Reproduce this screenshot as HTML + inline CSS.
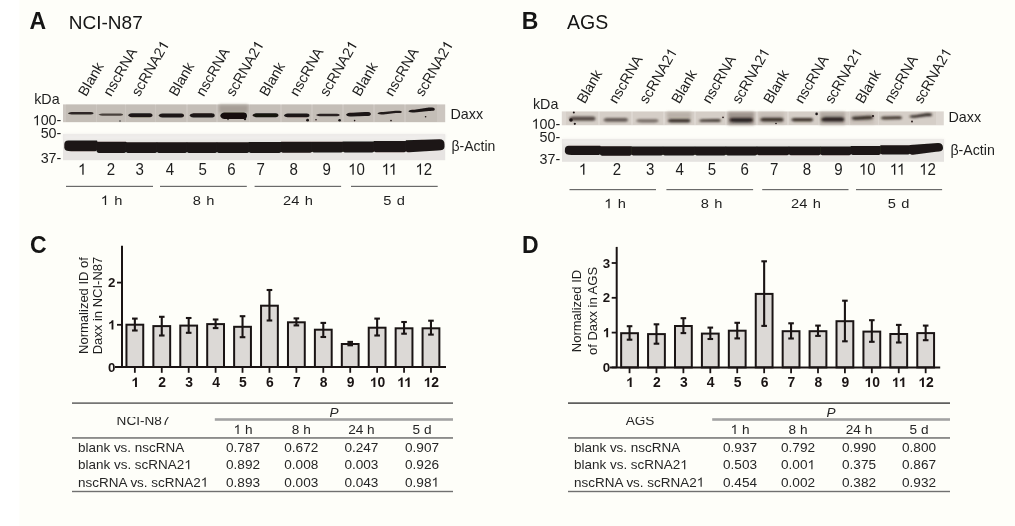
<!DOCTYPE html>
<html><head><meta charset="utf-8"><title>Figure</title>
<style>
html,body{margin:0;padding:0;background:#fefef9;}
svg{display:block;font-family:"Liberation Sans", sans-serif;will-change:transform;}
</style></head><body>
<svg width="1015" height="526" viewBox="0 0 1015 526">
<defs><filter id="b1" x="-10%" y="-100%" width="120%" height="300%"><feGaussianBlur stdDeviation="0.55"/></filter><clipPath id="hclip"><rect x="0" y="417" width="1015" height="20"/></clipPath><filter id="b3" x="-10%" y="-100%" width="120%" height="300%"><feGaussianBlur stdDeviation="0.8"/></filter><filter id="b2" x="-20%" y="-50%" width="140%" height="200%"><feGaussianBlur stdDeviation="1.5"/></filter></defs>
<rect x="0" y="0" width="1015" height="526" fill="#fefef9"/>
<rect x="0" y="0" width="19.3" height="526" fill="#ffffff"/>
<text x="0" y="0" font-size="23" font-weight="bold" text-anchor="start" fill="#151515" transform="translate(29.5,29)">A</text>
<text x="0" y="0" font-size="19" text-anchor="start" fill="#151515" transform="translate(68.8,29)">NCI-N87</text>
<text x="0" y="0" font-size="23" font-weight="bold" text-anchor="start" fill="#151515" transform="translate(521.7,29)">B</text>
<text x="0" y="0" font-size="19.5" text-anchor="start" fill="#151515" transform="translate(567,29)">AGS</text>
<text x="0" y="0" font-size="23" font-weight="bold" text-anchor="start" fill="#151515" transform="translate(30,252.5)">C</text>
<text x="0" y="0" font-size="23" font-weight="bold" text-anchor="start" fill="#151515" transform="translate(522,252.5)">D</text>
<rect x="63" y="104.4" width="382.2" height="17.8" fill="#ccc6c0"/>
<rect x="66" y="104.6" width="30" height="17.4" fill="#bcb5ad" opacity="0.45" filter="url(#b1)"/>
<rect x="97" y="104.6" width="28" height="17.4" fill="#bcb5ad" opacity="0.45" filter="url(#b1)"/>
<rect x="126" y="104.6" width="29" height="17.4" fill="#bcb5ad" opacity="0.45" filter="url(#b1)"/>
<rect x="156" y="104.6" width="30" height="17.4" fill="#bcb5ad" opacity="0.45" filter="url(#b1)"/>
<rect x="188" y="104.6" width="28" height="17.4" fill="#bcb5ad" opacity="0.45" filter="url(#b1)"/>
<rect x="218" y="104.6" width="31" height="17.4" fill="#bcb5ad" opacity="0.45" filter="url(#b1)"/>
<rect x="250" y="104.6" width="30" height="17.4" fill="#bcb5ad" opacity="0.45" filter="url(#b1)"/>
<rect x="282" y="104.6" width="29" height="17.4" fill="#bcb5ad" opacity="0.45" filter="url(#b1)"/>
<rect x="313" y="104.6" width="29" height="17.4" fill="#bcb5ad" opacity="0.45" filter="url(#b1)"/>
<rect x="344" y="104.6" width="29" height="17.4" fill="#bcb5ad" opacity="0.45" filter="url(#b1)"/>
<rect x="375" y="104.6" width="29" height="17.4" fill="#bcb5ad" opacity="0.45" filter="url(#b1)"/>
<rect x="406" y="104.6" width="31" height="17.4" fill="#bcb5ad" opacity="0.45" filter="url(#b1)"/>
<rect x="219" y="104.8" width="29" height="8" fill="#a69e96" filter="url(#b2)"/>
<path d="M67.9,113.3 C68.9,112.3 70.9,112.0 73.9,112.0 L87.5,111.9 C90.5,111.9 93.5,111.7 93.5,113.15 C93.5,114.60000000000001 90.5,114.4 87.5,114.4 L73.9,114.6 C70.9,114.6 68.9,114.3 67.9,113.3 Z" fill="#2e2825" opacity="1" filter="url(#b1)"/>
<path d="M98.4,114.6 C99.4,113.7 101.4,113.4 104.4,113.4 L117,113.4 C120,113.4 123,113.2 123,114.6 C123,116.0 120,115.8 117,115.8 L104.4,115.8 C101.4,115.8 99.4,115.5 98.4,114.6 Z" fill="#4a423d" opacity="1" filter="url(#b1)"/>
<path d="M128,115.3 C129,113.6 131,113.3 134,113.3 L146.6,113.3 C149.6,113.3 152.6,113.1 152.6,115.3 C152.6,117.5 149.6,117.3 146.6,117.3 L134,117.3 C131,117.3 129,117.0 128,115.3 Z" fill="#1e1917" opacity="1" filter="url(#b1)"/>
<path d="M158.5,115.6 C159.5,113.89999999999999 161.5,113.6 164.5,113.6 L178.1,113.6 C181.1,113.6 184.1,113.39999999999999 184.1,115.6 C184.1,117.8 181.1,117.6 178.1,117.6 L164.5,117.6 C161.5,117.6 159.5,117.3 158.5,115.6 Z" fill="#1c1716" opacity="1" filter="url(#b1)"/>
<path d="M189.5,115.44999999999999 C190.5,113.6 192.5,113.3 195.5,113.3 L208.7,113.3 C211.7,113.3 214.7,113.1 214.7,115.44999999999999 C214.7,117.8 211.7,117.6 208.7,117.6 L195.5,117.6 C192.5,117.6 190.5,117.3 189.5,115.44999999999999 Z" fill="#1a1515" opacity="1" filter="url(#b1)"/>
<path d="M220.2,115.75 C221.2,112.8 223.2,112.5 226.2,112.5 L241,112.5 C244,112.5 247,112.3 247,115.75 C247,119.2 244,119 241,119 L226.2,119 C223.2,119 221.2,118.7 220.2,115.75 Z" fill="#120e0d" opacity="1" filter="url(#b1)"/>
<path d="M252.4,115.2 C253.4,113.5 255.4,113.2 258.4,113.2 L272.5,113.2 C275.5,113.2 278.5,113.0 278.5,115.2 C278.5,117.4 275.5,117.2 272.5,117.2 L258.4,117.2 C255.4,117.2 253.4,116.9 252.4,115.2 Z" fill="#161211" opacity="1" filter="url(#b1)"/>
<path d="M283.9,115.4 C284.9,113.89999999999999 286.9,113.6 289.9,113.6 L303.5,113.6 C306.5,113.6 309.5,113.39999999999999 309.5,115.4 C309.5,117.4 306.5,117.2 303.5,117.2 L289.9,117.2 C286.9,117.2 284.9,116.9 283.9,115.4 Z" fill="#1a1515" opacity="1" filter="url(#b1)"/>
<path d="M316,115.05 C317,114.1 319,113.8 321.9,113.8 L333.70000000000005,113.8 C336.6,113.8 339.6,113.6 339.6,115.05 C339.6,116.5 336.6,116.3 333.70000000000005,116.3 L321.9,116.3 C319,116.3 317,116.0 316,115.05 Z" fill="#2a2422" opacity="1" filter="url(#b1)"/>
<path d="M346,114.69999999999999 C347,113.1 349,112.8 352,112.8 L364.9,112 C367.9,112 370.9,111.8 370.9,114.0 C370.9,116.2 367.9,116 364.9,116 L352,116.6 C349,116.6 347,116.3 346,114.69999999999999 Z" fill="#1a1515" opacity="1" filter="url(#b1)"/>
<path d="M377.4,113.3 C378.4,112.3 380.4,112 383.4,112 L395.8,110.8 C398.8,110.8 401.8,110.6 401.8,111.9 C401.8,113.2 398.8,113 395.8,113 L383.4,114.6 C380.4,114.6 378.4,114.3 377.4,113.3 Z" fill="#221c1a" opacity="1" filter="url(#b1)"/>
<path d="M408.3,111.19999999999999 C409.3,110.1 411.3,109.8 414.3,109.8 L428.8,107.6 C431.8,107.6 434.8,107.39999999999999 434.8,109.25 C434.8,111.10000000000001 431.8,110.9 428.8,110.9 L414.3,112.6 C411.3,112.6 409.3,112.3 408.3,111.19999999999999 Z" fill="#1a1515" opacity="1" filter="url(#b1)"/>
<circle cx="307.6" cy="120.2" r="1.4" fill="#1a1414" opacity="1" filter="url(#b1)"/>
<circle cx="316" cy="119.7" r="0.8" fill="#1a1414" opacity="1" filter="url(#b1)"/>
<circle cx="339.6" cy="120.2" r="1.3" fill="#1a1414" opacity="1" filter="url(#b1)"/>
<circle cx="354.6" cy="120.6" r="0.8" fill="#1a1414" opacity="1" filter="url(#b1)"/>
<circle cx="391" cy="120.6" r="0.8" fill="#1a1414" opacity="1" filter="url(#b1)"/>
<circle cx="425.6" cy="116.8" r="0.8" fill="#1a1414" opacity="1" filter="url(#b1)"/>
<circle cx="245" cy="119" r="1.2" fill="#1a1414" opacity="1" filter="url(#b1)"/>
<circle cx="228" cy="119.5" r="0.7" fill="#1a1414" opacity="1" filter="url(#b1)"/>
<circle cx="120" cy="121" r="0.7" fill="#1a1414" opacity="1" filter="url(#b1)"/>
<rect x="63" y="134.2" width="382.2" height="26" fill="#e7e4e2"/>
<rect x="63" y="134.2" width="382.2" height="6" fill="#efedeb" filter="url(#b2)"/>
<path d="M64.3,144.5 Q64.3,140.5 68.3,140.5 L96.89999999999999,140.5 Q97.3,140.5 97.3,140.9 L97.3,149.45 Q97.3,151.2 93.8,151.2 L71.3,151.2 Q64.3,151.2 64.3,147.7 Z" fill="#1a1614" filter="url(#b1)"/>
<path d="M96.7,142.20000000000002 Q96.7,141.8 97.10000000000001,141.8 L125.89999999999999,141.8 Q126.3,141.8 126.3,142.20000000000002 L126.3,151.25 Q126.3,153.0 122.8,153.0 L100.2,153.0 Q96.7,153.0 96.7,151.25 Z" fill="#1a1614" filter="url(#b1)"/>
<path d="M125.7,142.6 Q125.7,142.2 126.10000000000001,142.2 L156.9,142.2 Q157.3,142.2 157.3,142.6 L157.3,151.25 Q157.3,153.0 153.8,153.0 L129.2,153.0 Q125.7,153.0 125.7,151.25 Z" fill="#1a1614" filter="url(#b1)"/>
<path d="M156.7,142.6 Q156.7,142.2 157.1,142.2 L186.9,142.2 Q187.3,142.2 187.3,142.6 L187.3,151.25 Q187.3,153.0 183.8,153.0 L160.2,153.0 Q156.7,153.0 156.7,151.25 Z" fill="#1a1614" filter="url(#b1)"/>
<path d="M186.7,142.70000000000002 Q186.7,142.3 187.1,142.3 L216.9,142.3 Q217.3,142.3 217.3,142.70000000000002 L217.3,151.25 Q217.3,153.0 213.8,153.0 L190.2,153.0 Q186.7,153.0 186.7,151.25 Z" fill="#1a1614" filter="url(#b1)"/>
<path d="M216.7,142.70000000000002 Q216.7,142.3 217.1,142.3 L248.9,142.3 Q249.3,142.3 249.3,142.70000000000002 L249.3,151.25 Q249.3,153.0 245.8,153.0 L220.2,153.0 Q216.7,153.0 216.7,151.25 Z" fill="#1a1614" filter="url(#b1)"/>
<path d="M248.7,142.4 Q248.7,142.0 249.1,142.0 L280.90000000000003,142.0 Q281.3,142.0 281.3,142.4 L281.3,151.15 Q281.3,152.9 277.8,152.9 L252.2,152.9 Q248.7,152.9 248.7,151.15 Z" fill="#1a1614" filter="url(#b1)"/>
<path d="M280.7,142.20000000000002 Q280.7,141.8 281.09999999999997,141.8 L311.90000000000003,141.8 Q312.3,141.8 312.3,142.20000000000002 L312.3,151.05 Q312.3,152.8 308.8,152.8 L284.2,152.8 Q280.7,152.8 280.7,151.05 Z" fill="#1a1614" filter="url(#b1)"/>
<path d="M311.7,142.1 Q311.7,141.7 312.09999999999997,141.7 L342.90000000000003,141.7 Q343.3,141.7 343.3,142.1 L343.3,150.85 Q343.3,152.6 339.8,152.6 L315.2,152.6 Q311.7,152.6 311.7,150.85 Z" fill="#1a1614" filter="url(#b1)"/>
<path d="M342.7,141.8 Q342.7,141.4 343.09999999999997,141.4 L373.90000000000003,141.4 Q374.3,141.4 374.3,141.8 L374.3,150.75 Q374.3,152.5 370.8,152.5 L346.2,152.5 Q342.7,152.5 342.7,150.75 Z" fill="#1a1614" filter="url(#b1)"/>
<path d="M373.7,141.4 Q373.7,141.0 374.09999999999997,141.0 L405.90000000000003,141.0 Q406.3,141.0 406.3,141.4 L406.3,150.55 Q406.3,152.3 402.8,152.3 L377.2,152.3 Q373.7,152.3 373.7,150.55 Z" fill="#1a1614" filter="url(#b1)"/>
<path d="M405.7,140.68 Q405.7,140.28 406.09999999999997,140.28 L439.5,139.32000000000002 Q444.5,139.32000000000002 444.5,144.32000000000002 L444.5,147.10000000000002 Q444.5,150.60000000000002 437.5,150.60000000000002 L409.2,152.16000000000003 Q405.7,152.16000000000003 405.7,150.41000000000003 Z" fill="#1a1614" filter="url(#b1)"/>
<rect x="561.8" y="111.4" width="382" height="13.9" fill="#ddd7d1"/>
<rect x="566" y="111.8" width="32" height="13" fill="#cfc7c0" opacity="0.55" filter="url(#b1)"/>
<rect x="600" y="111.8" width="31" height="13" fill="#cfc7c0" opacity="0.55" filter="url(#b1)"/>
<rect x="633" y="111.8" width="30" height="13" fill="#cfc7c0" opacity="0.55" filter="url(#b1)"/>
<rect x="665" y="111.8" width="29" height="13" fill="#cfc7c0" opacity="0.55" filter="url(#b1)"/>
<rect x="696" y="111.8" width="29" height="13" fill="#cfc7c0" opacity="0.55" filter="url(#b1)"/>
<rect x="727" y="111.8" width="29" height="13" fill="#cfc7c0" opacity="0.55" filter="url(#b1)"/>
<rect x="758" y="111.8" width="29" height="13" fill="#cfc7c0" opacity="0.55" filter="url(#b1)"/>
<rect x="789" y="111.8" width="29" height="13" fill="#cfc7c0" opacity="0.55" filter="url(#b1)"/>
<rect x="820" y="111.8" width="29" height="13" fill="#cfc7c0" opacity="0.55" filter="url(#b1)"/>
<rect x="850" y="111.8" width="28" height="13" fill="#cfc7c0" opacity="0.55" filter="url(#b1)"/>
<rect x="879" y="111.8" width="28" height="13" fill="#cfc7c0" opacity="0.55" filter="url(#b1)"/>
<rect x="907" y="111.8" width="29" height="13" fill="#cfc7c0" opacity="0.55" filter="url(#b1)"/>
<rect x="728" y="112" width="26" height="12.8" fill="#958b84" opacity="0.85" filter="url(#b2)"/>
<rect x="667" y="112" width="24" height="7" fill="#b0a79f" opacity="0.75" filter="url(#b2)"/>
<rect x="759" y="112" width="25" height="12" fill="#bdb4ac" opacity="0.6" filter="url(#b2)"/>
<rect x="850" y="112" width="24" height="12" fill="#bdb4ac" opacity="0.6" filter="url(#b2)"/>
<rect x="820" y="112" width="25" height="12.5" fill="#a89f97" opacity="0.8" filter="url(#b2)"/>
<path d="M568.9,118.69999999999999 C569.9,116.89999999999999 571.9,116.6 574.9,116.6 L589.5,116.6 C592.5,116.6 595.5,116.39999999999999 595.5,118.69999999999999 C595.5,121.0 592.5,120.8 589.5,120.8 L574.9,120.8 C571.9,120.8 569.9,120.5 568.9,118.69999999999999 Z" fill="#564c46" opacity="1" filter="url(#b3)"/>
<path d="M603.3,119.9 C604.3,118.3 606.3,118 609.3,118 L622,118 C625,118 628,117.8 628,119.9 C628,122.0 625,121.8 622,121.8 L609.3,121.8 C606.3,121.8 604.3,121.5 603.3,119.9 Z" fill="#645a54" opacity="1" filter="url(#b3)"/>
<path d="M635.9,120.80000000000001 C636.9,119.5 638.9,119.2 641.55,119.2 L652.85,119.2 C655.5,119.2 658.5,119.0 658.5,120.80000000000001 C658.5,122.60000000000001 655.5,122.4 652.85,122.4 L641.55,122.4 C638.9,122.4 636.9,122.10000000000001 635.9,120.80000000000001 Z" fill="#746a64" opacity="1" filter="url(#b3)"/>
<path d="M667.4,120.8 C668.4,119.3 670.4,119 673.175,119 L684.725,119 C687.5,119 690.5,118.8 690.5,120.8 C690.5,122.8 687.5,122.6 684.725,122.6 L673.175,122.6 C670.4,122.6 668.4,122.3 667.4,120.8 Z" fill="#3a302c" opacity="1" filter="url(#b3)"/>
<path d="M698.9,120.65 C699.9,119.5 701.9,119.2 704.425,119.2 L715.475,119 C718,119 721,118.8 721,120.45 C721,122.10000000000001 718,121.9 715.475,121.9 L704.425,122.1 C701.9,122.1 699.9,121.8 698.9,120.65 Z" fill="#4a403a" opacity="1" filter="url(#b3)"/>
<path d="M729,120.1 C730,118.3 732,118 735,118 L747.1,118 C750.1,118 753.1,117.8 753.1,120.1 C753.1,122.4 750.1,122.2 747.1,122.2 L735,122.2 C732,122.2 730,121.9 729,120.1 Z" fill="#2a2220" opacity="1" filter="url(#b3)"/>
<path d="M760,119.65 C761,118.0 763,117.7 765.9,117.7 L777.7,117.7 C780.6,117.7 783.6,117.5 783.6,119.65 C783.6,121.8 780.6,121.6 777.7,121.6 L765.9,121.6 C763,121.6 761,121.3 760,119.65 Z" fill="#3a302c" opacity="1" filter="url(#b3)"/>
<path d="M791,119.8 C792,118.39999999999999 794,118.1 796.525,118.1 L807.575,118.1 C810.1,118.1 813.1,117.89999999999999 813.1,119.8 C813.1,121.7 810.1,121.5 807.575,121.5 L796.525,121.5 C794,121.5 792,121.2 791,119.8 Z" fill="#40362f" opacity="1" filter="url(#b3)"/>
<path d="M821,119.4 C822,117.5 824,117.2 826.8,117.2 L838.4000000000001,117.2 C841.2,117.2 844.2,117.0 844.2,119.4 C844.2,121.8 841.2,121.6 838.4000000000001,121.6 L826.8,121.6 C824,121.6 822,121.3 821,119.4 Z" fill="#2a2220" opacity="1" filter="url(#b3)"/>
<path d="M851.4,118.3 C852.4,116.89999999999999 854.4,116.6 856.8,116.6 L867.6,115.8 C870,115.8 873,115.6 873,117.6 C873,119.60000000000001 870,119.4 867.6,119.4 L856.8,120 C854.4,120 852.4,119.7 851.4,118.3 Z" fill="#3a302c" opacity="1" filter="url(#b3)"/>
<path d="M880.5,117.95 C881.5,116.7 883.5,116.4 885.9,116.4 L896.7,116.2 C899.1,116.2 902.1,116.0 902.1,117.75 C902.1,119.5 899.1,119.3 896.7,119.3 L885.9,119.5 C883.5,119.5 881.5,119.2 880.5,117.95 Z" fill="#40362f" opacity="1" filter="url(#b3)"/>
<path d="M909,116.5 C910,115.5 912,115.2 914.8,115.2 L926.4000000000001,113.2 C929.2,113.2 932.2,113.0 932.2,114.7 C932.2,116.4 929.2,116.2 926.4000000000001,116.2 L914.8,117.8 C912,117.8 910,117.5 909,116.5 Z" fill="#2e2622" opacity="1" filter="url(#b3)"/>
<circle cx="571" cy="120" r="1.8" fill="#1a1414" opacity="1" filter="url(#b1)"/>
<circle cx="573.8" cy="112.4" r="1" fill="#1a1414" opacity="1" filter="url(#b1)"/>
<circle cx="574.8" cy="123.8" r="1.1" fill="#1a1414" opacity="1" filter="url(#b1)"/>
<circle cx="816.6" cy="113.9" r="1.3" fill="#1a1414" opacity="1" filter="url(#b1)"/>
<circle cx="723" cy="117.4" r="0.8" fill="#1a1414" opacity="1" filter="url(#b1)"/>
<circle cx="873" cy="116" r="1.1" fill="#1a1414" opacity="1" filter="url(#b1)"/>
<circle cx="912" cy="121.5" r="0.9" fill="#1a1414" opacity="1" filter="url(#b1)"/>
<circle cx="776" cy="123.5" r="0.8" fill="#1a1414" opacity="1" filter="url(#b1)"/>
<rect x="562" y="139.2" width="382" height="22.6" fill="#e5e3e0"/>
<rect x="562" y="139.2" width="382" height="5" fill="#eeece9" filter="url(#b2)"/>
<path d="M564.9,149.8 Q564.9,145.8 568.9,145.8 L600.1999999999999,145.8 Q600.5999999999999,145.8 600.5999999999999,146.20000000000002 L600.5999999999999,153.15 Q600.5999999999999,154.9 597.0999999999999,154.9 L571.9,154.9 Q564.9,154.9 564.9,151.4 Z" fill="#1a1614" filter="url(#b1)"/>
<path d="M600.0,146.6 Q600.0,146.2 600.4,146.2 L631.4,146.2 Q631.8,146.2 631.8,146.6 L631.8,154.05 Q631.8,155.8 628.3,155.8 L603.5,155.8 Q600.0,155.8 600.0,154.05 Z" fill="#1a1614" filter="url(#b1)"/>
<path d="M631.2,147.0 Q631.2,146.6 631.6,146.6 L662.9,146.6 Q663.3,146.6 663.3,147.0 L663.3,153.85 Q663.3,155.6 659.8,155.6 L634.7,155.6 Q631.2,155.6 631.2,153.85 Z" fill="#1a1614" filter="url(#b1)"/>
<path d="M662.7,147.0 Q662.7,146.6 663.1,146.6 L694.9,146.6 Q695.3,146.6 695.3,147.0 L695.3,153.75 Q695.3,155.5 691.8,155.5 L666.2,155.5 Q662.7,155.5 662.7,153.75 Z" fill="#1a1614" filter="url(#b1)"/>
<path d="M694.7,147.0 Q694.7,146.6 695.1,146.6 L725.9,146.6 Q726.3,146.6 726.3,147.0 L726.3,153.75 Q726.3,155.5 722.8,155.5 L698.2,155.5 Q694.7,155.5 694.7,153.75 Z" fill="#1a1614" filter="url(#b1)"/>
<path d="M725.7,146.8 Q725.7,146.4 726.1,146.4 L756.9,146.4 Q757.3,146.4 757.3,146.8 L757.3,153.75 Q757.3,155.5 753.8,155.5 L729.2,155.5 Q725.7,155.5 725.7,153.75 Z" fill="#1a1614" filter="url(#b1)"/>
<path d="M756.7,146.8 Q756.7,146.4 757.1,146.4 L788.9,146.4 Q789.3,146.4 789.3,146.8 L789.3,153.45 Q789.3,155.2 785.8,155.2 L760.2,155.2 Q756.7,155.2 756.7,153.45 Z" fill="#1a1614" filter="url(#b1)"/>
<path d="M788.7,146.8 Q788.7,146.4 789.1,146.4 L820.4,146.4 Q820.8,146.4 820.8,146.8 L820.8,153.45 Q820.8,155.2 817.3,155.2 L792.2,155.2 Q788.7,155.2 788.7,153.45 Z" fill="#1a1614" filter="url(#b1)"/>
<path d="M820.2,146.8 Q820.2,146.4 820.6,146.4 L850.9,146.4 Q851.3,146.4 851.3,146.8 L851.3,153.55 Q851.3,155.3 847.8,155.3 L823.7,155.3 Q820.2,155.3 820.2,153.55 Z" fill="#1a1614" filter="url(#b1)"/>
<path d="M850.7,146.4 Q850.7,146.0 851.1,146.0 L880.4,146.0 Q880.8,146.0 880.8,146.4 L880.8,153.25 Q880.8,155.0 877.3,155.0 L854.2,155.0 Q850.7,155.0 850.7,153.25 Z" fill="#1a1614" filter="url(#b1)"/>
<path d="M880.2,145.70000000000002 Q880.2,145.3 880.6,145.3 L909.9,145.3 Q910.3,145.3 910.3,145.70000000000002 L910.3,152.85 Q910.3,154.6 906.8,154.6 L883.7,154.6 Q880.2,154.6 880.2,152.85 Z" fill="#1a1614" filter="url(#b1)"/>
<path d="M909.7,145.28 Q909.7,144.88 910.1,144.88 L938,143.12 Q943,143.12 943,148.12 L943,148.3 Q943,151.8 936,151.8 L913.2,154.66 Q909.7,154.66 909.7,152.91 Z" fill="#1a1614" filter="url(#b1)"/>
<g transform="translate(82.2,174.8) scale(0.92,1)">
<path d="M763,0 L583,0 L583,1129 Q465,1010 223,915 L223,1087 Q520,1220 647,1409 L763,1409 Z" fill="#1e1e1e" transform="translate(-4.56,0) scale(0.00801,-0.00801)"/>
</g>
<text x="0" y="0" font-size="16.4" text-anchor="middle" fill="#1e1e1e" transform="translate(111,174.8) scale(0.92,1)">2</text>
<text x="0" y="0" font-size="16.4" text-anchor="middle" fill="#1e1e1e" transform="translate(139.7,174.8) scale(0.92,1)">3</text>
<text x="0" y="0" font-size="16.4" text-anchor="middle" fill="#1e1e1e" transform="translate(170,174.8) scale(0.92,1)">4</text>
<text x="0" y="0" font-size="16.4" text-anchor="middle" fill="#1e1e1e" transform="translate(202.6,174.8) scale(0.92,1)">5</text>
<text x="0" y="0" font-size="16.4" text-anchor="middle" fill="#1e1e1e" transform="translate(231.5,174.8) scale(0.92,1)">6</text>
<text x="0" y="0" font-size="16.4" text-anchor="middle" fill="#1e1e1e" transform="translate(260.6,174.8) scale(0.92,1)">7</text>
<text x="0" y="0" font-size="16.4" text-anchor="middle" fill="#1e1e1e" transform="translate(293.7,174.8) scale(0.92,1)">8</text>
<text x="0" y="0" font-size="16.4" text-anchor="middle" fill="#1e1e1e" transform="translate(326.8,174.8) scale(0.92,1)">9</text>
<g transform="translate(356.5,174.8) scale(0.92,1)">
<text x="0.00" y="0" font-size="16.4" fill="#1e1e1e">0</text>
<path d="M763,0 L583,0 L583,1129 Q465,1010 223,915 L223,1087 Q520,1220 647,1409 L763,1409 Z" fill="#1e1e1e" transform="translate(-9.12,0) scale(0.00801,-0.00801)"/>
</g>
<g transform="translate(389.4,174.8) scale(0.92,1)">
<path d="M763,0 L583,0 L583,1129 Q465,1010 223,915 L223,1087 Q520,1220 647,1409 L763,1409 Z" fill="#1e1e1e" transform="translate(-8.51,0) scale(0.00801,-0.00801)"/>
<path d="M763,0 L583,0 L583,1129 Q465,1010 223,915 L223,1087 Q520,1220 647,1409 L763,1409 Z" fill="#1e1e1e" transform="translate(-0.61,0) scale(0.00801,-0.00801)"/>
</g>
<g transform="translate(423.8,174.8) scale(0.92,1)">
<text x="0.00" y="0" font-size="16.4" fill="#1e1e1e">2</text>
<path d="M763,0 L583,0 L583,1129 Q465,1010 223,915 L223,1087 Q520,1220 647,1409 L763,1409 Z" fill="#1e1e1e" transform="translate(-9.12,0) scale(0.00801,-0.00801)"/>
</g>
<rect x="66" y="185.8" width="87" height="1.2" fill="#6a6a6a"/>
<rect x="160" y="185.8" width="86.80000000000001" height="1.2" fill="#6a6a6a"/>
<rect x="254.6" y="185.8" width="86.50000000000003" height="1.2" fill="#6a6a6a"/>
<rect x="351" y="185.8" width="86.69999999999999" height="1.2" fill="#6a6a6a"/>
<g transform="translate(111.5,205) scale(1.07,1)">
<text x="2.50" y="0" font-size="13.7" fill="#1e1e1e">h</text>
<path d="M763,0 L583,0 L583,1129 Q465,1010 223,915 L223,1087 Q520,1220 647,1409 L763,1409 Z" fill="#1e1e1e" transform="translate(-10.12,0) scale(0.00669,-0.00669)"/>
</g>
<text x="0" y="0" font-size="13.7" text-anchor="middle" fill="#1e1e1e" word-spacing="1.2" transform="translate(203.5,205) scale(1.07,1)">8 h</text>
<text x="0" y="0" font-size="13.7" text-anchor="middle" fill="#1e1e1e" word-spacing="1.2" transform="translate(298,205) scale(1.07,1)">24 h</text>
<text x="0" y="0" font-size="13.7" text-anchor="middle" fill="#1e1e1e" word-spacing="1.2" transform="translate(394,205) scale(1.07,1)">5 d</text>
<text x="0" y="0" font-size="14.3" text-anchor="start" fill="#1e1e1e" transform="translate(450.5,118.7)">Daxx</text>
<text x="0" y="0" font-size="14" text-anchor="start" fill="#1e1e1e" transform="translate(451.5,150.6)">&#946;-Actin</text>
<text x="0" y="0" font-size="14.3" text-anchor="end" fill="#1e1e1e" transform="translate(59.6,104.3)">kDa</text>
<g transform="translate(61.3,125.2)">
<text x="-20.67 -12.71 -4.76" y="0" font-size="14.3" fill="#1e1e1e">00-</text>
<path d="M763,0 L583,0 L583,1129 Q465,1010 223,915 L223,1087 Q520,1220 647,1409 L763,1409 Z" fill="#1e1e1e" transform="translate(-28.62,0) scale(0.00698,-0.00698)"/>
</g>
<text x="0" y="0" font-size="14.3" text-anchor="end" fill="#1e1e1e" transform="translate(61.3,138.2)">50-</text>
<text x="0" y="0" font-size="14.3" text-anchor="end" fill="#1e1e1e" transform="translate(61.3,162.5)">37-</text>
<g transform="translate(583,174.8) scale(0.92,1)">
<path d="M763,0 L583,0 L583,1129 Q465,1010 223,915 L223,1087 Q520,1220 647,1409 L763,1409 Z" fill="#1e1e1e" transform="translate(-4.56,0) scale(0.00801,-0.00801)"/>
</g>
<text x="0" y="0" font-size="16.4" text-anchor="middle" fill="#1e1e1e" transform="translate(617,174.8) scale(0.92,1)">2</text>
<text x="0" y="0" font-size="16.4" text-anchor="middle" fill="#1e1e1e" transform="translate(650.2,174.8) scale(0.92,1)">3</text>
<text x="0" y="0" font-size="16.4" text-anchor="middle" fill="#1e1e1e" transform="translate(679.7,174.8) scale(0.92,1)">4</text>
<text x="0" y="0" font-size="16.4" text-anchor="middle" fill="#1e1e1e" transform="translate(712,174.8) scale(0.92,1)">5</text>
<text x="0" y="0" font-size="16.4" text-anchor="middle" fill="#1e1e1e" transform="translate(744.6,174.8) scale(0.92,1)">6</text>
<text x="0" y="0" font-size="16.4" text-anchor="middle" fill="#1e1e1e" transform="translate(774.2,174.8) scale(0.92,1)">7</text>
<text x="0" y="0" font-size="16.4" text-anchor="middle" fill="#1e1e1e" transform="translate(807,174.8) scale(0.92,1)">8</text>
<text x="0" y="0" font-size="16.4" text-anchor="middle" fill="#1e1e1e" transform="translate(838.5,174.8) scale(0.92,1)">9</text>
<g transform="translate(867.3,174.8) scale(0.92,1)">
<text x="0.00" y="0" font-size="16.4" fill="#1e1e1e">0</text>
<path d="M763,0 L583,0 L583,1129 Q465,1010 223,915 L223,1087 Q520,1220 647,1409 L763,1409 Z" fill="#1e1e1e" transform="translate(-9.12,0) scale(0.00801,-0.00801)"/>
</g>
<g transform="translate(897.5,174.8) scale(0.92,1)">
<path d="M763,0 L583,0 L583,1129 Q465,1010 223,915 L223,1087 Q520,1220 647,1409 L763,1409 Z" fill="#1e1e1e" transform="translate(-8.51,0) scale(0.00801,-0.00801)"/>
<path d="M763,0 L583,0 L583,1129 Q465,1010 223,915 L223,1087 Q520,1220 647,1409 L763,1409 Z" fill="#1e1e1e" transform="translate(-0.61,0) scale(0.00801,-0.00801)"/>
</g>
<g transform="translate(927.6,174.8) scale(0.92,1)">
<text x="0.00" y="0" font-size="16.4" fill="#1e1e1e">2</text>
<path d="M763,0 L583,0 L583,1129 Q465,1010 223,915 L223,1087 Q520,1220 647,1409 L763,1409 Z" fill="#1e1e1e" transform="translate(-9.12,0) scale(0.00801,-0.00801)"/>
</g>
<rect x="569.5" y="189.0" width="86.5" height="1.2" fill="#6a6a6a"/>
<rect x="666.4" y="189.0" width="86.70000000000005" height="1.2" fill="#6a6a6a"/>
<rect x="762.2" y="189.0" width="86.29999999999995" height="1.2" fill="#6a6a6a"/>
<rect x="856" y="189.0" width="86.10000000000002" height="1.2" fill="#6a6a6a"/>
<g transform="translate(615,208.3) scale(1.07,1)">
<text x="2.50" y="0" font-size="13.7" fill="#1e1e1e">h</text>
<path d="M763,0 L583,0 L583,1129 Q465,1010 223,915 L223,1087 Q520,1220 647,1409 L763,1409 Z" fill="#1e1e1e" transform="translate(-10.12,0) scale(0.00669,-0.00669)"/>
</g>
<text x="0" y="0" font-size="13.7" text-anchor="middle" fill="#1e1e1e" word-spacing="1.2" transform="translate(711.5,208.3) scale(1.07,1)">8 h</text>
<text x="0" y="0" font-size="13.7" text-anchor="middle" fill="#1e1e1e" word-spacing="1.2" transform="translate(806,208.3) scale(1.07,1)">24 h</text>
<text x="0" y="0" font-size="13.7" text-anchor="middle" fill="#1e1e1e" word-spacing="1.2" transform="translate(898.5,208.3) scale(1.07,1)">5 d</text>
<text x="0" y="0" font-size="14.3" text-anchor="start" fill="#1e1e1e" transform="translate(948.5,122.3)">Daxx</text>
<text x="0" y="0" font-size="14.2" text-anchor="start" fill="#1e1e1e" transform="translate(950.4,155.2)">&#946;-Actin</text>
<text x="0" y="0" font-size="14.3" text-anchor="end" fill="#1e1e1e" transform="translate(558.4,108.7)">kDa</text>
<g transform="translate(560.2,128.7)">
<text x="-20.67 -12.71 -4.76" y="0" font-size="14.3" fill="#1e1e1e">00-</text>
<path d="M763,0 L583,0 L583,1129 Q465,1010 223,915 L223,1087 Q520,1220 647,1409 L763,1409 Z" fill="#1e1e1e" transform="translate(-28.62,0) scale(0.00698,-0.00698)"/>
</g>
<text x="0" y="0" font-size="14.3" text-anchor="end" fill="#1e1e1e" transform="translate(560.2,141.8)">50-</text>
<text x="0" y="0" font-size="14.3" text-anchor="end" fill="#1e1e1e" transform="translate(560.2,163.5)">37-</text>
<text x="0" y="0" font-size="14.4" text-anchor="start" fill="#1c1c1c" transform="translate(86.0,97.2) rotate(-60)">Blank</text>
<text x="0" y="0" font-size="14.4" text-anchor="start" fill="#1c1c1c" transform="translate(111.1,97.2) rotate(-60)">nscRNA</text>
<g transform="translate(139.2,97.2) rotate(-60)">
<text x="0.00 7.20 14.40 24.80 35.20 44.80" y="0" font-size="14.4" fill="#1c1c1c">scRNA2</text>
<path d="M763,0 L583,0 L583,1129 Q465,1010 223,915 L223,1087 Q520,1220 647,1409 L763,1409 Z" fill="#1c1c1c" transform="translate(52.81,0) scale(0.00703,-0.00703)"/>
</g>
<text x="0" y="0" font-size="14.4" text-anchor="start" fill="#1c1c1c" transform="translate(176.7,97.2) rotate(-60)">Blank</text>
<text x="0" y="0" font-size="14.4" text-anchor="start" fill="#1c1c1c" transform="translate(203.7,97.2) rotate(-60)">nscRNA</text>
<g transform="translate(233.8,97.2) rotate(-60)">
<text x="0.00 7.20 14.40 24.80 35.20 44.80" y="0" font-size="14.4" fill="#1c1c1c">scRNA2</text>
<path d="M763,0 L583,0 L583,1129 Q465,1010 223,915 L223,1087 Q520,1220 647,1409 L763,1409 Z" fill="#1c1c1c" transform="translate(52.81,0) scale(0.00703,-0.00703)"/>
</g>
<text x="0" y="0" font-size="14.4" text-anchor="start" fill="#1c1c1c" transform="translate(267.3,97.2) rotate(-60)">Blank</text>
<text x="0" y="0" font-size="14.4" text-anchor="start" fill="#1c1c1c" transform="translate(297.4,97.2) rotate(-60)">nscRNA</text>
<g transform="translate(327.5,97.2) rotate(-60)">
<text x="0.00 7.20 14.40 24.80 35.20 44.80" y="0" font-size="14.4" fill="#1c1c1c">scRNA2</text>
<path d="M763,0 L583,0 L583,1129 Q465,1010 223,915 L223,1087 Q520,1220 647,1409 L763,1409 Z" fill="#1c1c1c" transform="translate(52.81,0) scale(0.00703,-0.00703)"/>
</g>
<text x="0" y="0" font-size="14.4" text-anchor="start" fill="#1c1c1c" transform="translate(360.0,97.2) rotate(-60)">Blank</text>
<text x="0" y="0" font-size="14.4" text-anchor="start" fill="#1c1c1c" transform="translate(392.6,97.2) rotate(-60)">nscRNA</text>
<g transform="translate(423.1,97.2) rotate(-60)">
<text x="0.00 7.20 14.40 24.80 35.20 44.80" y="0" font-size="14.4" fill="#1c1c1c">scRNA2</text>
<path d="M763,0 L583,0 L583,1129 Q465,1010 223,915 L223,1087 Q520,1220 647,1409 L763,1409 Z" fill="#1c1c1c" transform="translate(52.81,0) scale(0.00703,-0.00703)"/>
</g>
<text x="0" y="0" font-size="14.4" text-anchor="start" fill="#1c1c1c" transform="translate(584.7,104.6) rotate(-60)">Blank</text>
<text x="0" y="0" font-size="14.4" text-anchor="start" fill="#1c1c1c" transform="translate(616.6,104.6) rotate(-60)">nscRNA</text>
<g transform="translate(647.1,104.6) rotate(-60)">
<text x="0.00 7.20 14.40 24.80 35.20 44.80" y="0" font-size="14.4" fill="#1c1c1c">scRNA2</text>
<path d="M763,0 L583,0 L583,1129 Q465,1010 223,915 L223,1087 Q520,1220 647,1409 L763,1409 Z" fill="#1c1c1c" transform="translate(52.81,0) scale(0.00703,-0.00703)"/>
</g>
<text x="0" y="0" font-size="14.4" text-anchor="start" fill="#1c1c1c" transform="translate(679.3,104.6) rotate(-60)">Blank</text>
<text x="0" y="0" font-size="14.4" text-anchor="start" fill="#1c1c1c" transform="translate(709.9,104.6) rotate(-60)">nscRNA</text>
<g transform="translate(739.8,104.6) rotate(-60)">
<text x="0.00 7.20 14.40 24.80 35.20 44.80" y="0" font-size="14.4" fill="#1c1c1c">scRNA2</text>
<path d="M763,0 L583,0 L583,1129 Q465,1010 223,915 L223,1087 Q520,1220 647,1409 L763,1409 Z" fill="#1c1c1c" transform="translate(52.81,0) scale(0.00703,-0.00703)"/>
</g>
<text x="0" y="0" font-size="14.4" text-anchor="start" fill="#1c1c1c" transform="translate(771.3,104.6) rotate(-60)">Blank</text>
<text x="0" y="0" font-size="14.4" text-anchor="start" fill="#1c1c1c" transform="translate(802.6,104.6) rotate(-60)">nscRNA</text>
<g transform="translate(832.4,104.6) rotate(-60)">
<text x="0.00 7.20 14.40 24.80 35.20 44.80" y="0" font-size="14.4" fill="#1c1c1c">scRNA2</text>
<path d="M763,0 L583,0 L583,1129 Q465,1010 223,915 L223,1087 Q520,1220 647,1409 L763,1409 Z" fill="#1c1c1c" transform="translate(52.81,0) scale(0.00703,-0.00703)"/>
</g>
<text x="0" y="0" font-size="14.4" text-anchor="start" fill="#1c1c1c" transform="translate(863.3,104.6) rotate(-60)">Blank</text>
<text x="0" y="0" font-size="14.4" text-anchor="start" fill="#1c1c1c" transform="translate(891.9,104.6) rotate(-60)">nscRNA</text>
<g transform="translate(921.7,104.6) rotate(-60)">
<text x="0.00 7.20 14.40 24.80 35.20 44.80" y="0" font-size="14.4" fill="#1c1c1c">scRNA2</text>
<path d="M763,0 L583,0 L583,1129 Q465,1010 223,915 L223,1087 Q520,1220 647,1409 L763,1409 Z" fill="#1c1c1c" transform="translate(52.81,0) scale(0.00703,-0.00703)"/>
</g>
<rect x="126.44999999999999" y="324.7" width="16.8" height="42.30000000000001" fill="#dcd9d6" stroke="#1a1414" stroke-width="2"/>
<line x1="134.85" y1="318.6" x2="134.85" y2="330.5" stroke="#1a1414" stroke-width="2.1"/>
<line x1="132.04999999999998" y1="318.6" x2="137.65" y2="318.6" stroke="#1a1414" stroke-width="2.1"/>
<line x1="132.04999999999998" y1="330.5" x2="137.65" y2="330.5" stroke="#1a1414" stroke-width="2.1"/>
<line x1="134.85" y1="367.0" x2="134.85" y2="372.8" stroke="#1a1414" stroke-width="1.8"/>
<g transform="translate(135.25,387)">
<path d="M818,0 L537,0 L537,1017 Q383,880 174,812 L174,1057 Q450,1140 590,1409 L818,1409 Z" fill="#1a1414" transform="translate(-3.87,0) scale(0.00679,-0.00679)"/>
</g>
<rect x="153.36999999999998" y="326.09999999999997" width="16.8" height="40.900000000000034" fill="#dcd9d6" stroke="#1a1414" stroke-width="2"/>
<line x1="161.76999999999998" y1="316.8" x2="161.76999999999998" y2="335.5" stroke="#1a1414" stroke-width="2.1"/>
<line x1="158.96999999999997" y1="316.8" x2="164.57" y2="316.8" stroke="#1a1414" stroke-width="2.1"/>
<line x1="158.96999999999997" y1="335.5" x2="164.57" y2="335.5" stroke="#1a1414" stroke-width="2.1"/>
<line x1="161.76999999999998" y1="367.0" x2="161.76999999999998" y2="372.8" stroke="#1a1414" stroke-width="1.8"/>
<text x="0" y="0" font-size="13.9" font-weight="bold" text-anchor="middle" fill="#1a1414" transform="translate(162.17,387)">2</text>
<rect x="180.29" y="325.59999999999997" width="16.8" height="41.400000000000034" fill="#dcd9d6" stroke="#1a1414" stroke-width="2"/>
<line x1="188.69" y1="318.0" x2="188.69" y2="332.79999999999995" stroke="#1a1414" stroke-width="2.1"/>
<line x1="185.89" y1="318.0" x2="191.49" y2="318.0" stroke="#1a1414" stroke-width="2.1"/>
<line x1="185.89" y1="332.79999999999995" x2="191.49" y2="332.79999999999995" stroke="#1a1414" stroke-width="2.1"/>
<line x1="188.69" y1="367.0" x2="188.69" y2="372.8" stroke="#1a1414" stroke-width="1.8"/>
<text x="0" y="0" font-size="13.9" font-weight="bold" text-anchor="middle" fill="#1a1414" transform="translate(189.09,387)">3</text>
<rect x="207.21" y="324.09999999999997" width="16.8" height="42.900000000000034" fill="#dcd9d6" stroke="#1a1414" stroke-width="2"/>
<line x1="215.61" y1="319.5" x2="215.61" y2="328.09999999999997" stroke="#1a1414" stroke-width="2.1"/>
<line x1="212.81" y1="319.5" x2="218.41000000000003" y2="319.5" stroke="#1a1414" stroke-width="2.1"/>
<line x1="212.81" y1="328.09999999999997" x2="218.41000000000003" y2="328.09999999999997" stroke="#1a1414" stroke-width="2.1"/>
<line x1="215.61" y1="367.0" x2="215.61" y2="372.8" stroke="#1a1414" stroke-width="1.8"/>
<text x="0" y="0" font-size="13.9" font-weight="bold" text-anchor="middle" fill="#1a1414" transform="translate(216.01000000000002,387)">4</text>
<rect x="234.13" y="326.79999999999995" width="16.8" height="40.200000000000045" fill="#dcd9d6" stroke="#1a1414" stroke-width="2"/>
<line x1="242.53" y1="316.20000000000005" x2="242.53" y2="337.2" stroke="#1a1414" stroke-width="2.1"/>
<line x1="239.73" y1="316.20000000000005" x2="245.33" y2="316.20000000000005" stroke="#1a1414" stroke-width="2.1"/>
<line x1="239.73" y1="337.2" x2="245.33" y2="337.2" stroke="#1a1414" stroke-width="2.1"/>
<line x1="242.53" y1="367.0" x2="242.53" y2="372.8" stroke="#1a1414" stroke-width="1.8"/>
<text x="0" y="0" font-size="13.9" font-weight="bold" text-anchor="middle" fill="#1a1414" transform="translate(242.93,387)">5</text>
<rect x="261.05000000000007" y="305.7" width="16.8" height="61.30000000000001" fill="#dcd9d6" stroke="#1a1414" stroke-width="2"/>
<line x1="269.45000000000005" y1="290.0" x2="269.45000000000005" y2="320.5" stroke="#1a1414" stroke-width="2.1"/>
<line x1="266.65000000000003" y1="290.0" x2="272.25000000000006" y2="290.0" stroke="#1a1414" stroke-width="2.1"/>
<line x1="266.65000000000003" y1="320.5" x2="272.25000000000006" y2="320.5" stroke="#1a1414" stroke-width="2.1"/>
<line x1="269.45000000000005" y1="367.0" x2="269.45000000000005" y2="372.8" stroke="#1a1414" stroke-width="1.8"/>
<text x="0" y="0" font-size="13.9" font-weight="bold" text-anchor="middle" fill="#1a1414" transform="translate(269.85,387)">6</text>
<rect x="287.97" y="322.29999999999995" width="16.8" height="44.700000000000045" fill="#dcd9d6" stroke="#1a1414" stroke-width="2"/>
<line x1="296.37" y1="318.40000000000003" x2="296.37" y2="325.4" stroke="#1a1414" stroke-width="2.1"/>
<line x1="293.57" y1="318.40000000000003" x2="299.17" y2="318.40000000000003" stroke="#1a1414" stroke-width="2.1"/>
<line x1="293.57" y1="325.4" x2="299.17" y2="325.4" stroke="#1a1414" stroke-width="2.1"/>
<line x1="296.37" y1="367.0" x2="296.37" y2="372.8" stroke="#1a1414" stroke-width="1.8"/>
<text x="0" y="0" font-size="13.9" font-weight="bold" text-anchor="middle" fill="#1a1414" transform="translate(296.77,387)">7</text>
<rect x="314.89" y="329.7" width="16.8" height="37.30000000000001" fill="#dcd9d6" stroke="#1a1414" stroke-width="2"/>
<line x1="323.28999999999996" y1="322.90000000000003" x2="323.28999999999996" y2="337.0" stroke="#1a1414" stroke-width="2.1"/>
<line x1="320.48999999999995" y1="322.90000000000003" x2="326.09" y2="322.90000000000003" stroke="#1a1414" stroke-width="2.1"/>
<line x1="320.48999999999995" y1="337.0" x2="326.09" y2="337.0" stroke="#1a1414" stroke-width="2.1"/>
<line x1="323.28999999999996" y1="367.0" x2="323.28999999999996" y2="372.8" stroke="#1a1414" stroke-width="1.8"/>
<text x="0" y="0" font-size="13.9" font-weight="bold" text-anchor="middle" fill="#1a1414" transform="translate(323.68999999999994,387)">8</text>
<rect x="341.81000000000006" y="344.0" width="16.8" height="23.0" fill="#dcd9d6" stroke="#1a1414" stroke-width="2"/>
<line x1="350.21000000000004" y1="341.90000000000003" x2="350.21000000000004" y2="345.29999999999995" stroke="#1a1414" stroke-width="2.1"/>
<line x1="347.41" y1="341.90000000000003" x2="353.01000000000005" y2="341.90000000000003" stroke="#1a1414" stroke-width="2.1"/>
<line x1="347.41" y1="345.29999999999995" x2="353.01000000000005" y2="345.29999999999995" stroke="#1a1414" stroke-width="2.1"/>
<line x1="350.21000000000004" y1="367.0" x2="350.21000000000004" y2="372.8" stroke="#1a1414" stroke-width="1.8"/>
<text x="0" y="0" font-size="13.9" font-weight="bold" text-anchor="middle" fill="#1a1414" transform="translate(350.61,387)">9</text>
<rect x="368.73" y="327.7" width="16.8" height="39.30000000000001" fill="#dcd9d6" stroke="#1a1414" stroke-width="2"/>
<line x1="377.13" y1="318.6" x2="377.13" y2="335.5" stroke="#1a1414" stroke-width="2.1"/>
<line x1="374.33" y1="318.6" x2="379.93" y2="318.6" stroke="#1a1414" stroke-width="2.1"/>
<line x1="374.33" y1="335.5" x2="379.93" y2="335.5" stroke="#1a1414" stroke-width="2.1"/>
<line x1="377.13" y1="367.0" x2="377.13" y2="372.8" stroke="#1a1414" stroke-width="1.8"/>
<g transform="translate(377.53,387)">
<text x="0.00" y="0" font-size="13.9" font-weight="bold" fill="#1a1414">0</text>
<path d="M818,0 L537,0 L537,1017 Q383,880 174,812 L174,1057 Q450,1140 590,1409 L818,1409 Z" fill="#1a1414" transform="translate(-7.73,0) scale(0.00679,-0.00679)"/>
</g>
<rect x="395.6500000000001" y="328.29999999999995" width="16.8" height="38.700000000000045" fill="#dcd9d6" stroke="#1a1414" stroke-width="2"/>
<line x1="404.05000000000007" y1="322.0" x2="404.05000000000007" y2="333.7" stroke="#1a1414" stroke-width="2.1"/>
<line x1="401.25000000000006" y1="322.0" x2="406.8500000000001" y2="322.0" stroke="#1a1414" stroke-width="2.1"/>
<line x1="401.25000000000006" y1="333.7" x2="406.8500000000001" y2="333.7" stroke="#1a1414" stroke-width="2.1"/>
<line x1="404.05000000000007" y1="367.0" x2="404.05000000000007" y2="372.8" stroke="#1a1414" stroke-width="1.8"/>
<g transform="translate(404.45000000000005,387)">
<path d="M818,0 L537,0 L537,1017 Q383,880 174,812 L174,1057 Q450,1140 590,1409 L818,1409 Z" fill="#1a1414" transform="translate(-7.35,0) scale(0.00679,-0.00679)"/>
<path d="M818,0 L537,0 L537,1017 Q383,880 174,812 L174,1057 Q450,1140 590,1409 L818,1409 Z" fill="#1a1414" transform="translate(-0.38,0) scale(0.00679,-0.00679)"/>
</g>
<rect x="422.57000000000005" y="328.29999999999995" width="16.8" height="38.700000000000045" fill="#dcd9d6" stroke="#1a1414" stroke-width="2"/>
<line x1="430.97" y1="320.70000000000005" x2="430.97" y2="334.59999999999997" stroke="#1a1414" stroke-width="2.1"/>
<line x1="428.17" y1="320.70000000000005" x2="433.77000000000004" y2="320.70000000000005" stroke="#1a1414" stroke-width="2.1"/>
<line x1="428.17" y1="334.59999999999997" x2="433.77000000000004" y2="334.59999999999997" stroke="#1a1414" stroke-width="2.1"/>
<line x1="430.97" y1="367.0" x2="430.97" y2="372.8" stroke="#1a1414" stroke-width="1.8"/>
<g transform="translate(431.37,387)">
<text x="0.00" y="0" font-size="13.9" font-weight="bold" fill="#1a1414">2</text>
<path d="M818,0 L537,0 L537,1017 Q383,880 174,812 L174,1057 Q450,1140 590,1409 L818,1409 Z" fill="#1a1414" transform="translate(-7.73,0) scale(0.00679,-0.00679)"/>
</g>
<line x1="122" y1="245.8" x2="122" y2="367.0" stroke="#1a1414" stroke-width="2"/>
<line x1="115" y1="367.0" x2="446" y2="367.0" stroke="#1a1414" stroke-width="2"/>
<line x1="117" y1="367.0" x2="122" y2="367.0" stroke="#1a1414" stroke-width="1.8"/>
<text x="0" y="0" font-size="13.3" font-weight="bold" text-anchor="end" fill="#1a1414" transform="translate(115.5,371.6)">0</text>
<line x1="117" y1="324.8" x2="122" y2="324.8" stroke="#1a1414" stroke-width="1.8"/>
<g transform="translate(115.5,329.40000000000003)">
<path d="M818,0 L537,0 L537,1017 Q383,880 174,812 L174,1057 Q450,1140 590,1409 L818,1409 Z" fill="#1a1414" transform="translate(-7.40,0) scale(0.00649,-0.00649)"/>
</g>
<line x1="117" y1="282.6" x2="122" y2="282.6" stroke="#1a1414" stroke-width="1.8"/>
<text x="0" y="0" font-size="13.3" font-weight="bold" text-anchor="end" fill="#1a1414" transform="translate(115.5,287.20000000000005)">2</text>
<text font-size="13" fill="#1e1e1e" text-anchor="middle" transform="translate(87.5,305.5) rotate(-90)">Normalized ID of</text>
<text font-size="13" fill="#1e1e1e" text-anchor="middle" transform="translate(101.5,305.5) rotate(-90)">Daxx in NCI-N87</text>
<rect x="621.1500000000001" y="333.2" width="16.8" height="34.19999999999999" fill="#dcd9d6" stroke="#1a1414" stroke-width="2"/>
<line x1="629.5500000000001" y1="326.20000000000005" x2="629.5500000000001" y2="339.7" stroke="#1a1414" stroke-width="2.1"/>
<line x1="626.7500000000001" y1="326.20000000000005" x2="632.35" y2="326.20000000000005" stroke="#1a1414" stroke-width="2.1"/>
<line x1="626.7500000000001" y1="339.7" x2="632.35" y2="339.7" stroke="#1a1414" stroke-width="2.1"/>
<line x1="629.5500000000001" y1="367.4" x2="629.5500000000001" y2="373.2" stroke="#1a1414" stroke-width="1.8"/>
<g transform="translate(629.95,387)">
<path d="M818,0 L537,0 L537,1017 Q383,880 174,812 L174,1057 Q450,1140 590,1409 L818,1409 Z" fill="#1a1414" transform="translate(-3.87,0) scale(0.00679,-0.00679)"/>
</g>
<rect x="648.07" y="334.09999999999997" width="16.8" height="33.30000000000001" fill="#dcd9d6" stroke="#1a1414" stroke-width="2"/>
<line x1="656.47" y1="324.3" x2="656.47" y2="343.7" stroke="#1a1414" stroke-width="2.1"/>
<line x1="653.6700000000001" y1="324.3" x2="659.27" y2="324.3" stroke="#1a1414" stroke-width="2.1"/>
<line x1="653.6700000000001" y1="343.7" x2="659.27" y2="343.7" stroke="#1a1414" stroke-width="2.1"/>
<line x1="656.47" y1="367.4" x2="656.47" y2="373.2" stroke="#1a1414" stroke-width="1.8"/>
<text x="0" y="0" font-size="13.9" font-weight="bold" text-anchor="middle" fill="#1a1414" transform="translate(656.87,387)">2</text>
<rect x="674.9900000000001" y="326.0" width="16.8" height="41.39999999999998" fill="#dcd9d6" stroke="#1a1414" stroke-width="2"/>
<line x1="683.3900000000001" y1="318.20000000000005" x2="683.3900000000001" y2="333.09999999999997" stroke="#1a1414" stroke-width="2.1"/>
<line x1="680.5900000000001" y1="318.20000000000005" x2="686.19" y2="318.20000000000005" stroke="#1a1414" stroke-width="2.1"/>
<line x1="680.5900000000001" y1="333.09999999999997" x2="686.19" y2="333.09999999999997" stroke="#1a1414" stroke-width="2.1"/>
<line x1="683.3900000000001" y1="367.4" x2="683.3900000000001" y2="373.2" stroke="#1a1414" stroke-width="1.8"/>
<text x="0" y="0" font-size="13.9" font-weight="bold" text-anchor="middle" fill="#1a1414" transform="translate(683.7900000000001,387)">3</text>
<rect x="701.9100000000001" y="333.59999999999997" width="16.8" height="33.80000000000001" fill="#dcd9d6" stroke="#1a1414" stroke-width="2"/>
<line x1="710.3100000000001" y1="327.6" x2="710.3100000000001" y2="339.0" stroke="#1a1414" stroke-width="2.1"/>
<line x1="707.5100000000001" y1="327.6" x2="713.11" y2="327.6" stroke="#1a1414" stroke-width="2.1"/>
<line x1="707.5100000000001" y1="339.0" x2="713.11" y2="339.0" stroke="#1a1414" stroke-width="2.1"/>
<line x1="710.3100000000001" y1="367.4" x2="710.3100000000001" y2="373.2" stroke="#1a1414" stroke-width="1.8"/>
<text x="0" y="0" font-size="13.9" font-weight="bold" text-anchor="middle" fill="#1a1414" transform="translate(710.71,387)">4</text>
<rect x="728.83" y="330.7" width="16.8" height="36.69999999999999" fill="#dcd9d6" stroke="#1a1414" stroke-width="2"/>
<line x1="737.23" y1="322.8" x2="737.23" y2="338.4" stroke="#1a1414" stroke-width="2.1"/>
<line x1="734.4300000000001" y1="322.8" x2="740.03" y2="322.8" stroke="#1a1414" stroke-width="2.1"/>
<line x1="734.4300000000001" y1="338.4" x2="740.03" y2="338.4" stroke="#1a1414" stroke-width="2.1"/>
<line x1="737.23" y1="367.4" x2="737.23" y2="373.2" stroke="#1a1414" stroke-width="1.8"/>
<text x="0" y="0" font-size="13.9" font-weight="bold" text-anchor="middle" fill="#1a1414" transform="translate(737.63,387)">5</text>
<rect x="755.7500000000001" y="293.9" width="16.8" height="73.5" fill="#dcd9d6" stroke="#1a1414" stroke-width="2"/>
<line x1="764.1500000000001" y1="261.3" x2="764.1500000000001" y2="325.9" stroke="#1a1414" stroke-width="2.1"/>
<line x1="761.3500000000001" y1="261.3" x2="766.95" y2="261.3" stroke="#1a1414" stroke-width="2.1"/>
<line x1="761.3500000000001" y1="325.9" x2="766.95" y2="325.9" stroke="#1a1414" stroke-width="2.1"/>
<line x1="764.1500000000001" y1="367.4" x2="764.1500000000001" y2="373.2" stroke="#1a1414" stroke-width="1.8"/>
<text x="0" y="0" font-size="13.9" font-weight="bold" text-anchor="middle" fill="#1a1414" transform="translate(764.5500000000001,387)">6</text>
<rect x="782.6700000000001" y="331.2" width="16.8" height="36.19999999999999" fill="#dcd9d6" stroke="#1a1414" stroke-width="2"/>
<line x1="791.07" y1="323.3" x2="791.07" y2="338.5" stroke="#1a1414" stroke-width="2.1"/>
<line x1="788.2700000000001" y1="323.3" x2="793.87" y2="323.3" stroke="#1a1414" stroke-width="2.1"/>
<line x1="788.2700000000001" y1="338.5" x2="793.87" y2="338.5" stroke="#1a1414" stroke-width="2.1"/>
<line x1="791.07" y1="367.4" x2="791.07" y2="373.2" stroke="#1a1414" stroke-width="1.8"/>
<text x="0" y="0" font-size="13.9" font-weight="bold" text-anchor="middle" fill="#1a1414" transform="translate(791.47,387)">7</text>
<rect x="809.59" y="331.2" width="16.8" height="36.19999999999999" fill="#dcd9d6" stroke="#1a1414" stroke-width="2"/>
<line x1="817.99" y1="325.6" x2="817.99" y2="335.9" stroke="#1a1414" stroke-width="2.1"/>
<line x1="815.19" y1="325.6" x2="820.79" y2="325.6" stroke="#1a1414" stroke-width="2.1"/>
<line x1="815.19" y1="335.9" x2="820.79" y2="335.9" stroke="#1a1414" stroke-width="2.1"/>
<line x1="817.99" y1="367.4" x2="817.99" y2="373.2" stroke="#1a1414" stroke-width="1.8"/>
<text x="0" y="0" font-size="13.9" font-weight="bold" text-anchor="middle" fill="#1a1414" transform="translate(818.39,387)">8</text>
<rect x="836.5100000000001" y="321.2" width="16.8" height="46.19999999999999" fill="#dcd9d6" stroke="#1a1414" stroke-width="2"/>
<line x1="844.9100000000001" y1="300.70000000000005" x2="844.9100000000001" y2="341.29999999999995" stroke="#1a1414" stroke-width="2.1"/>
<line x1="842.1100000000001" y1="300.70000000000005" x2="847.71" y2="300.70000000000005" stroke="#1a1414" stroke-width="2.1"/>
<line x1="842.1100000000001" y1="341.29999999999995" x2="847.71" y2="341.29999999999995" stroke="#1a1414" stroke-width="2.1"/>
<line x1="844.9100000000001" y1="367.4" x2="844.9100000000001" y2="373.2" stroke="#1a1414" stroke-width="1.8"/>
<text x="0" y="0" font-size="13.9" font-weight="bold" text-anchor="middle" fill="#1a1414" transform="translate(845.3100000000001,387)">9</text>
<rect x="863.4300000000002" y="331.59999999999997" width="16.8" height="35.80000000000001" fill="#dcd9d6" stroke="#1a1414" stroke-width="2"/>
<line x1="871.8300000000002" y1="320.20000000000005" x2="871.8300000000002" y2="341.79999999999995" stroke="#1a1414" stroke-width="2.1"/>
<line x1="869.0300000000002" y1="320.20000000000005" x2="874.6300000000001" y2="320.20000000000005" stroke="#1a1414" stroke-width="2.1"/>
<line x1="869.0300000000002" y1="341.79999999999995" x2="874.6300000000001" y2="341.79999999999995" stroke="#1a1414" stroke-width="2.1"/>
<line x1="871.8300000000002" y1="367.4" x2="871.8300000000002" y2="373.2" stroke="#1a1414" stroke-width="1.8"/>
<g transform="translate(872.2300000000001,387)">
<text x="0.00" y="0" font-size="13.9" font-weight="bold" fill="#1a1414">0</text>
<path d="M818,0 L537,0 L537,1017 Q383,880 174,812 L174,1057 Q450,1140 590,1409 L818,1409 Z" fill="#1a1414" transform="translate(-7.73,0) scale(0.00679,-0.00679)"/>
</g>
<rect x="890.3500000000001" y="334.0" width="16.8" height="33.39999999999998" fill="#dcd9d6" stroke="#1a1414" stroke-width="2"/>
<line x1="898.7500000000001" y1="324.90000000000003" x2="898.7500000000001" y2="342.5" stroke="#1a1414" stroke-width="2.1"/>
<line x1="895.9500000000002" y1="324.90000000000003" x2="901.5500000000001" y2="324.90000000000003" stroke="#1a1414" stroke-width="2.1"/>
<line x1="895.9500000000002" y1="342.5" x2="901.5500000000001" y2="342.5" stroke="#1a1414" stroke-width="2.1"/>
<line x1="898.7500000000001" y1="367.4" x2="898.7500000000001" y2="373.2" stroke="#1a1414" stroke-width="1.8"/>
<g transform="translate(899.1500000000001,387)">
<path d="M818,0 L537,0 L537,1017 Q383,880 174,812 L174,1057 Q450,1140 590,1409 L818,1409 Z" fill="#1a1414" transform="translate(-7.35,0) scale(0.00679,-0.00679)"/>
<path d="M818,0 L537,0 L537,1017 Q383,880 174,812 L174,1057 Q450,1140 590,1409 L818,1409 Z" fill="#1a1414" transform="translate(-0.38,0) scale(0.00679,-0.00679)"/>
</g>
<rect x="917.2700000000001" y="333.09999999999997" width="16.8" height="34.30000000000001" fill="#dcd9d6" stroke="#1a1414" stroke-width="2"/>
<line x1="925.6700000000001" y1="325.6" x2="925.6700000000001" y2="340.2" stroke="#1a1414" stroke-width="2.1"/>
<line x1="922.8700000000001" y1="325.6" x2="928.47" y2="325.6" stroke="#1a1414" stroke-width="2.1"/>
<line x1="922.8700000000001" y1="340.2" x2="928.47" y2="340.2" stroke="#1a1414" stroke-width="2.1"/>
<line x1="925.6700000000001" y1="367.4" x2="925.6700000000001" y2="373.2" stroke="#1a1414" stroke-width="1.8"/>
<g transform="translate(926.07,387)">
<text x="0.00" y="0" font-size="13.9" font-weight="bold" fill="#1a1414">2</text>
<path d="M818,0 L537,0 L537,1017 Q383,880 174,812 L174,1057 Q450,1140 590,1409 L818,1409 Z" fill="#1a1414" transform="translate(-7.73,0) scale(0.00679,-0.00679)"/>
</g>
<line x1="616.7" y1="246.9" x2="616.7" y2="367.4" stroke="#1a1414" stroke-width="2"/>
<line x1="609.7" y1="367.4" x2="940.2" y2="367.4" stroke="#1a1414" stroke-width="2"/>
<line x1="611.7" y1="367.4" x2="616.7" y2="367.4" stroke="#1a1414" stroke-width="1.8"/>
<text x="0" y="0" font-size="13.3" font-weight="bold" text-anchor="end" fill="#1a1414" transform="translate(610.2,372.0)">0</text>
<line x1="611.7" y1="332.59999999999997" x2="616.7" y2="332.59999999999997" stroke="#1a1414" stroke-width="1.8"/>
<g transform="translate(610.2,337.2)">
<path d="M818,0 L537,0 L537,1017 Q383,880 174,812 L174,1057 Q450,1140 590,1409 L818,1409 Z" fill="#1a1414" transform="translate(-7.40,0) scale(0.00649,-0.00649)"/>
</g>
<line x1="611.7" y1="297.79999999999995" x2="616.7" y2="297.79999999999995" stroke="#1a1414" stroke-width="1.8"/>
<text x="0" y="0" font-size="13.3" font-weight="bold" text-anchor="end" fill="#1a1414" transform="translate(610.2,302.4)">2</text>
<line x1="611.7" y1="263.0" x2="616.7" y2="263.0" stroke="#1a1414" stroke-width="1.8"/>
<text x="0" y="0" font-size="13.3" font-weight="bold" text-anchor="end" fill="#1a1414" transform="translate(610.2,267.6)">3</text>
<text font-size="13" fill="#1e1e1e" text-anchor="middle" transform="translate(581.4,311) rotate(-90)">Normalized ID</text>
<text font-size="13" fill="#1e1e1e" text-anchor="middle" transform="translate(597.3,311) rotate(-90)">of Daxx in AGS</text>
<rect x="72" y="402.4" width="381" height="1.4" fill="#555"/>
<rect x="214.8" y="418.2" width="238.2" height="2.6" fill="#a3a3a3"/>
<rect x="72" y="437.2" width="381" height="1.5" fill="#707070"/>
<rect x="72" y="490.8" width="381" height="1.4" fill="#707070"/>
<g clip-path="url(#hclip)">
<text x="0" y="0" font-size="13.6" text-anchor="middle" fill="#262626" transform="translate(143,425.4)">NCI-N87</text>
</g>
<text x="0" y="0" font-size="13.6" font-style="italic" text-anchor="middle" fill="#262626" transform="translate(334,416.8)">P</text>
<g transform="translate(243,434)">
<text x="1.89" y="0" font-size="13.6" fill="#262626">h</text>
<path d="M763,0 L583,0 L583,1129 Q465,1010 223,915 L223,1087 Q520,1220 647,1409 L763,1409 Z" fill="#262626" transform="translate(-9.45,0) scale(0.00664,-0.00664)"/>
</g>
<text x="0" y="0" font-size="13.6" text-anchor="middle" fill="#262626" transform="translate(301.3,434)">8 h</text>
<text x="0" y="0" font-size="13.6" text-anchor="middle" fill="#262626" transform="translate(361.4,434)">24 h</text>
<text x="0" y="0" font-size="13.6" text-anchor="middle" fill="#262626" transform="translate(422,434)">5 d</text>
<text x="0" y="0" font-size="13.6" text-anchor="start" fill="#262626" transform="translate(78,452) scale(0.99,1)">blank vs. nscRNA</text>
<text x="0" y="0" font-size="13.6" text-anchor="middle" fill="#262626" transform="translate(243,452)">0.787</text>
<text x="0" y="0" font-size="13.6" text-anchor="middle" fill="#262626" transform="translate(301.3,452)">0.672</text>
<text x="0" y="0" font-size="13.6" text-anchor="middle" fill="#262626" transform="translate(361.4,452)">0.247</text>
<text x="0" y="0" font-size="13.6" text-anchor="middle" fill="#262626" transform="translate(422,452)">0.907</text>
<g transform="translate(78,469.3) scale(0.99,1)">
<text x="0.00 7.56 10.59 18.15 25.71 36.29 43.09 49.89 57.45 64.25 71.05 80.87 90.69 99.76" y="0" font-size="13.6" fill="#262626">blankvs.scRNA2</text>
<path d="M763,0 L583,0 L583,1129 Q465,1010 223,915 L223,1087 Q520,1220 647,1409 L763,1409 Z" fill="#262626" transform="translate(107.33,0) scale(0.00664,-0.00664)"/>
</g>
<text x="0" y="0" font-size="13.6" text-anchor="middle" fill="#262626" transform="translate(243,469.3)">0.892</text>
<text x="0" y="0" font-size="13.6" text-anchor="middle" fill="#262626" transform="translate(301.3,469.3)">0.008</text>
<text x="0" y="0" font-size="13.6" text-anchor="middle" fill="#262626" transform="translate(361.4,469.3)">0.003</text>
<text x="0" y="0" font-size="13.6" text-anchor="middle" fill="#262626" transform="translate(422,469.3)">0.926</text>
<g transform="translate(78,486.8) scale(0.99,1)">
<text x="0.00 7.56 14.36 21.16 30.99 40.81 52.91 59.71 66.51 74.06 80.86 87.66 97.48 107.31 116.38" y="0" font-size="13.6" fill="#262626">nscRNAvs.scRNA2</text>
<path d="M763,0 L583,0 L583,1129 Q465,1010 223,915 L223,1087 Q520,1220 647,1409 L763,1409 Z" fill="#262626" transform="translate(123.94,0) scale(0.00664,-0.00664)"/>
</g>
<text x="0" y="0" font-size="13.6" text-anchor="middle" fill="#262626" transform="translate(243,486.8)">0.893</text>
<text x="0" y="0" font-size="13.6" text-anchor="middle" fill="#262626" transform="translate(301.3,486.8)">0.003</text>
<text x="0" y="0" font-size="13.6" text-anchor="middle" fill="#262626" transform="translate(361.4,486.8)">0.043</text>
<g transform="translate(422,486.8)">
<text x="-17.02 -9.45 -5.67 1.89" y="0" font-size="13.6" fill="#262626">0.98</text>
<path d="M763,0 L583,0 L583,1129 Q465,1010 223,915 L223,1087 Q520,1220 647,1409 L763,1409 Z" fill="#262626" transform="translate(9.45,0) scale(0.00664,-0.00664)"/>
</g>
<rect x="568" y="402.4" width="382" height="1.4" fill="#383838"/>
<rect x="712.2" y="418.2" width="237.79999999999995" height="2.6" fill="#a3a3a3"/>
<rect x="568" y="437.2" width="382" height="1.5" fill="#707070"/>
<rect x="568" y="490.8" width="382" height="1.4" fill="#707070"/>
<g clip-path="url(#hclip)">
<text x="0" y="0" font-size="13.6" text-anchor="middle" fill="#262626" transform="translate(640,425.4)">AGS</text>
</g>
<text x="0" y="0" font-size="13.6" font-style="italic" text-anchor="middle" fill="#262626" transform="translate(831,416.8)">P</text>
<g transform="translate(740,434)">
<text x="1.89" y="0" font-size="13.6" fill="#262626">h</text>
<path d="M763,0 L583,0 L583,1129 Q465,1010 223,915 L223,1087 Q520,1220 647,1409 L763,1409 Z" fill="#262626" transform="translate(-9.45,0) scale(0.00664,-0.00664)"/>
</g>
<text x="0" y="0" font-size="13.6" text-anchor="middle" fill="#262626" transform="translate(798,434)">8 h</text>
<text x="0" y="0" font-size="13.6" text-anchor="middle" fill="#262626" transform="translate(859,434)">24 h</text>
<text x="0" y="0" font-size="13.6" text-anchor="middle" fill="#262626" transform="translate(919,434)">5 d</text>
<text x="0" y="0" font-size="13.6" text-anchor="start" fill="#262626" transform="translate(574,452) scale(0.99,1)">blank vs. nscRNA</text>
<text x="0" y="0" font-size="13.6" text-anchor="middle" fill="#262626" transform="translate(740,452)">0.937</text>
<text x="0" y="0" font-size="13.6" text-anchor="middle" fill="#262626" transform="translate(798,452)">0.792</text>
<text x="0" y="0" font-size="13.6" text-anchor="middle" fill="#262626" transform="translate(859,452)">0.990</text>
<text x="0" y="0" font-size="13.6" text-anchor="middle" fill="#262626" transform="translate(919,452)">0.800</text>
<g transform="translate(574,469.3) scale(0.99,1)">
<text x="0.00 7.56 10.59 18.15 25.71 36.29 43.09 49.89 57.45 64.25 71.05 80.87 90.69 99.76" y="0" font-size="13.6" fill="#262626">blankvs.scRNA2</text>
<path d="M763,0 L583,0 L583,1129 Q465,1010 223,915 L223,1087 Q520,1220 647,1409 L763,1409 Z" fill="#262626" transform="translate(107.33,0) scale(0.00664,-0.00664)"/>
</g>
<text x="0" y="0" font-size="13.6" text-anchor="middle" fill="#262626" transform="translate(740,469.3)">0.503</text>
<g transform="translate(798,469.3)">
<text x="-17.02 -9.45 -5.67 1.89" y="0" font-size="13.6" fill="#262626">0.00</text>
<path d="M763,0 L583,0 L583,1129 Q465,1010 223,915 L223,1087 Q520,1220 647,1409 L763,1409 Z" fill="#262626" transform="translate(9.45,0) scale(0.00664,-0.00664)"/>
</g>
<text x="0" y="0" font-size="13.6" text-anchor="middle" fill="#262626" transform="translate(859,469.3)">0.375</text>
<text x="0" y="0" font-size="13.6" text-anchor="middle" fill="#262626" transform="translate(919,469.3)">0.867</text>
<g transform="translate(574,486.8) scale(0.99,1)">
<text x="0.00 7.56 14.36 21.16 30.99 40.81 52.91 59.71 66.51 74.06 80.86 87.66 97.48 107.31 116.38" y="0" font-size="13.6" fill="#262626">nscRNAvs.scRNA2</text>
<path d="M763,0 L583,0 L583,1129 Q465,1010 223,915 L223,1087 Q520,1220 647,1409 L763,1409 Z" fill="#262626" transform="translate(123.94,0) scale(0.00664,-0.00664)"/>
</g>
<text x="0" y="0" font-size="13.6" text-anchor="middle" fill="#262626" transform="translate(740,486.8)">0.454</text>
<text x="0" y="0" font-size="13.6" text-anchor="middle" fill="#262626" transform="translate(798,486.8)">0.002</text>
<text x="0" y="0" font-size="13.6" text-anchor="middle" fill="#262626" transform="translate(859,486.8)">0.382</text>
<text x="0" y="0" font-size="13.6" text-anchor="middle" fill="#262626" transform="translate(919,486.8)">0.932</text>
</svg>
</body></html>
